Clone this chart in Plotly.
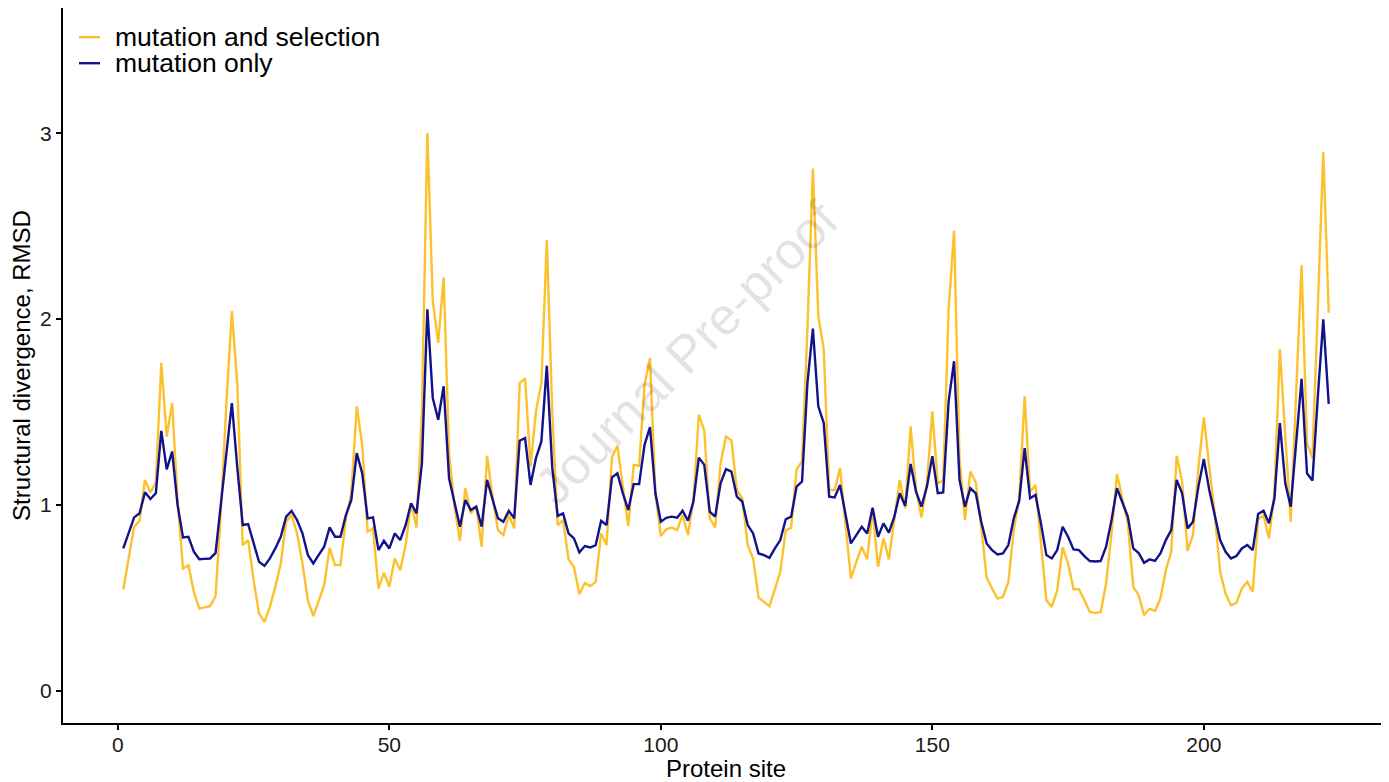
import plotly.graph_objects as go

# ---- data ----
sites = list(range(1, 224))

mutation_and_selection = [
    0.544, 0.713, 0.882, 0.914, 1.134, 1.067, 1.120, 1.764, 1.368, 1.548,
    1.026, 0.657, 0.675, 0.531, 0.441, 0.448, 0.454, 0.508, 0.980, 1.550,
    2.043, 1.650, 0.783, 0.810, 0.594, 0.414, 0.369, 0.450, 0.558, 0.684,
    0.909, 0.945, 0.846, 0.684, 0.486, 0.400, 0.480, 0.567, 0.768, 0.675,
    0.675, 0.927, 1.062, 1.530, 1.323, 0.855, 0.873, 0.549, 0.635, 0.558,
    0.711, 0.648, 0.783, 1.008, 0.878, 1.500, 3.002, 2.097, 1.872, 2.223,
    1.280, 0.990, 0.806, 1.089, 0.954, 0.990, 0.774, 1.264, 1.044, 0.864,
    0.837, 0.945, 0.873, 1.656, 1.680, 1.206, 1.503, 1.656, 2.426, 1.500,
    0.891, 0.918, 0.706, 0.666, 0.518, 0.579, 0.562, 0.585, 0.846, 0.783,
    1.256, 1.318, 1.098, 0.886, 1.215, 1.210, 1.647, 1.791, 1.062, 0.832,
    0.868, 0.878, 0.864, 0.945, 0.837, 1.026, 1.485, 1.400, 0.927, 0.878,
    1.224, 1.368, 1.347, 1.080, 1.035, 0.783, 0.711, 0.500, 0.477, 0.454,
    0.544, 0.639, 0.864, 0.876, 1.191, 1.233, 1.950, 2.811, 2.016, 1.839,
    1.080, 1.080, 1.197, 0.900, 0.603, 0.693, 0.774, 0.706, 0.972, 0.666,
    0.819, 0.706, 0.918, 1.134, 0.981, 1.422, 1.080, 0.932, 1.116, 1.503,
    1.116, 1.129, 2.050, 2.475, 1.250, 0.918, 1.179, 1.121, 0.882, 0.608,
    0.549, 0.495, 0.504, 0.585, 0.864, 1.035, 1.584, 1.071, 1.107, 0.810,
    0.486, 0.450, 0.540, 0.770, 0.684, 0.545, 0.545, 0.486, 0.423, 0.417,
    0.423, 0.576, 0.846, 1.166, 1.035, 0.900, 0.558, 0.513, 0.405, 0.441,
    0.428, 0.495, 0.648, 0.747, 1.264, 1.125, 0.752, 0.837, 1.200, 1.470,
    1.206, 0.954, 0.639, 0.522, 0.459, 0.472, 0.549, 0.585, 0.531, 0.922,
    0.945, 0.819, 1.062, 1.839, 1.370, 0.909, 1.600, 2.289, 1.332, 1.251,
    2.070, 2.901, 2.034,
]

mutation_only = [
    0.765, 0.846, 0.932, 0.954, 1.067, 1.031, 1.062, 1.398, 1.191, 1.287,
    0.999, 0.824, 0.828, 0.747, 0.707, 0.709, 0.711, 0.741, 1.000, 1.280,
    1.548, 1.200, 0.891, 0.896, 0.792, 0.693, 0.671, 0.711, 0.765, 0.828,
    0.936, 0.967, 0.918, 0.846, 0.729, 0.684, 0.730, 0.774, 0.878, 0.828,
    0.828, 0.945, 1.026, 1.278, 1.170, 0.927, 0.932, 0.756, 0.806, 0.765,
    0.846, 0.810, 0.891, 1.008, 0.954, 1.224, 2.052, 1.575, 1.458, 1.638,
    1.143, 1.008, 0.882, 1.026, 0.972, 0.990, 0.882, 1.134, 1.026, 0.927,
    0.909, 0.968, 0.927, 1.345, 1.359, 1.107, 1.251, 1.341, 1.749, 1.200,
    0.940, 0.954, 0.846, 0.819, 0.743, 0.778, 0.770, 0.783, 0.914, 0.891,
    1.148, 1.170, 1.062, 0.972, 1.111, 1.111, 1.323, 1.418, 1.062, 0.909,
    0.930, 0.936, 0.930, 0.968, 0.914, 1.017, 1.254, 1.215, 0.963, 0.936,
    1.116, 1.192, 1.179, 1.044, 1.017, 0.891, 0.846, 0.738, 0.729, 0.714,
    0.765, 0.810, 0.922, 0.936, 1.098, 1.125, 1.656, 1.949, 1.530, 1.440,
    1.044, 1.040, 1.107, 0.954, 0.792, 0.837, 0.882, 0.846, 0.984, 0.828,
    0.900, 0.850, 0.936, 1.062, 0.994, 1.220, 1.071, 0.990, 1.098, 1.262,
    1.062, 1.066, 1.557, 1.773, 1.134, 0.990, 1.089, 1.062, 0.909, 0.792,
    0.756, 0.733, 0.738, 0.783, 0.927, 1.022, 1.305, 1.035, 1.053, 0.900,
    0.729, 0.711, 0.756, 0.882, 0.828, 0.760, 0.756, 0.724, 0.697, 0.695,
    0.697, 0.774, 0.918, 1.089, 1.008, 0.936, 0.765, 0.740, 0.688, 0.706,
    0.698, 0.738, 0.810, 0.864, 1.134, 1.062, 0.873, 0.909, 1.098, 1.246,
    1.080, 0.936, 0.810, 0.747, 0.711, 0.724, 0.765, 0.783, 0.756, 0.950,
    0.968, 0.900, 1.035, 1.440, 1.116, 0.990, 1.340, 1.678, 1.170, 1.130,
    1.586, 1.998, 1.543,
]

series_names = ["mutation and selection", "mutation only"]
x_tick_values = [0, 50, 100, 150, 200]
y_tick_values = [0, 1, 2, 3]

assert len(mutation_and_selection) == len(sites) == len(mutation_only)

# ---- styling ----
YELLOW = "#FDC12E"
BLUE = "#12128C"
FONT = "Liberation Sans, Arial, sans-serif"

# the page body has an 8px margin, so the figure is laid out 8px smaller
OFF = 8
W, H = 1389 - OFF, 782 - OFF
ML, MR, MT, MB = 63 - OFF, 0, 0.3, 782 - 723.3
PW, PH = W - ML - MR, H - MT - MB


def px_to_paper_x(page_px):
    return (page_px - OFF - ML) / PW


def px_to_paper_y(page_py):
    return (H - MB - (page_py - OFF)) / PH


fig = go.Figure()
fig.add_trace(go.Scatter(x=sites, y=mutation_and_selection, mode="lines",
                         name=series_names[0], line=dict(color=YELLOW, width=2.4),
                         showlegend=False))
fig.add_trace(go.Scatter(x=sites, y=mutation_only, mode="lines",
                         name=series_names[1], line=dict(color=BLUE, width=2.4),
                         showlegend=False))

# legend drawn as key lines + text (ggplot-style compact legend)
shapes = []
annotations = []
for name, color, py in [(series_names[0], YELLOW, 37.5), (series_names[1], BLUE, 63.5)]:
    shapes.append(dict(type="line", xref="paper", yref="paper",
                       x0=px_to_paper_x(79), x1=px_to_paper_x(100),
                       y0=px_to_paper_y(py), y1=px_to_paper_y(py),
                       line=dict(color=color, width=2.4)))
    annotations.append(dict(text=name, xref="paper", yref="paper",
                            x=px_to_paper_x(113), y=px_to_paper_y(py),
                            xanchor="left", yanchor="middle", showarrow=False,
                            font=dict(family=FONT, size=26.5, color="black")))

# watermark
annotations.append(dict(text="Journal Pre-proof", xref="paper", yref="paper",
                        x=px_to_paper_x(686), y=px_to_paper_y(353),
                        xanchor="center", yanchor="middle", showarrow=False,
                        textangle=-45,
                        font=dict(family=FONT, size=52, color="rgba(0,0,0,0.11)")))

fig.update_layout(
    width=W, height=H, autosize=False,
    margin=dict(l=ML, r=MR, t=MT, b=MB, pad=0),
    paper_bgcolor="white", plot_bgcolor="white",
    font=dict(family=FONT, color="black"),
    shapes=shapes, annotations=annotations,
    showlegend=False,
)

fig.update_xaxes(
    range=[-10.1, 234.1], tickvals=x_tick_values,
    showline=True, linecolor="black", linewidth=2,
    ticks="outside", ticklen=5, tickwidth=1.5, tickcolor="black",
    ticklabelstandoff=-3,
    showgrid=False, zeroline=False,
    tickfont=dict(family=FONT, size=21, color="#1a1a1a"),
    title=dict(text="Protein site", font=dict(family=FONT, size=24, color="black"),
               standoff=4),
)
fig.update_yaxes(
    range=[-0.175, 3.675], tickvals=y_tick_values,
    showline=True, linecolor="black", linewidth=2,
    ticks="outside", ticklen=5, tickwidth=1.5, tickcolor="black",
    showgrid=False, zeroline=False,
    tickfont=dict(family=FONT, size=21, color="#1a1a1a"),
    title=dict(text="Structural divergence, RMSD",
               font=dict(family=FONT, size=24, color="black"), standoff=4),
)

fig.write_html("out.html")
